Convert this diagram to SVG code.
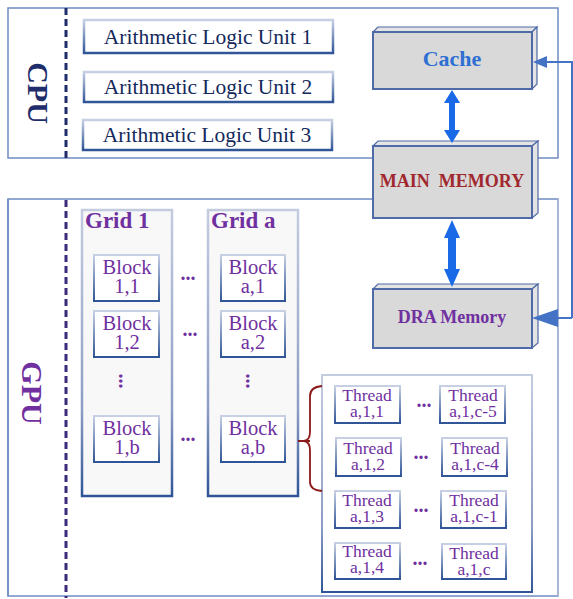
<svg xmlns="http://www.w3.org/2000/svg" width="573" height="599" viewBox="0 0 573 599">
<defs>
<linearGradient id="gs" x1="0" y1="0" x2="0" y2="1">
<stop offset="0" stop-color="#c8d0e4"/>
<stop offset="1" stop-color="#2f5597"/>
</linearGradient>
<linearGradient id="gs2" x1="0" y1="0" x2="0" y2="1">
<stop offset="0" stop-color="#c4cce0"/>
<stop offset="0.7" stop-color="#8c9cc4"/>
<stop offset="1" stop-color="#2f5597"/>
</linearGradient>
</defs>
<style>
.frame{fill:#ffffff;stroke:#6f8cc4;stroke-width:1.5}
.alu{fill:#ffffff;stroke:url(#gs);stroke-width:2.5}
.alut{font-family:"Liberation Serif",serif;font-size:21.5px;fill:#14295c;text-anchor:middle}
.mem{fill:#d9d9d9;stroke:#4f6aa6;stroke-width:2}
.bev{fill:#e4e4e4;stroke:#4f6aa6;stroke-width:1.2}
.memt{font-family:"Liberation Serif",serif;font-weight:bold;text-anchor:middle}
.grid{fill:#f8f8f8;stroke:url(#gs2);stroke-width:2.5}
.gridt{font-family:"Liberation Serif",serif;font-weight:bold;font-size:23px;fill:#7030a0}
.blk{fill:#ffffff;stroke:url(#gs);stroke-width:2}
.blkt{font-family:"Liberation Serif",serif;font-size:20.5px;fill:#7030a0;text-anchor:middle}
.thr{fill:#ffffff;stroke:url(#gs);stroke-width:2}
.thrt{font-family:"Liberation Serif",serif;font-size:17.5px;fill:#7030a0;text-anchor:middle}
.dots{font-family:"Liberation Serif",serif;font-weight:bold;font-size:20px;fill:#7030a0;text-anchor:middle}
.dbl{fill:#1a6ae8}
.conn{fill:none;stroke:#4472c4;stroke-width:2}
</style>

<g id="cpu">
<rect class="frame" x="8" y="8" width="550" height="150"/>
<line x1="66" y1="8" x2="66" y2="158" stroke="#1f2d6b" stroke-width="3" stroke-dasharray="7,4"/>
<text transform="translate(28,93) rotate(90)" font-family="Liberation Serif,serif" font-weight="bold" font-size="30" fill="#1f2d6b" text-anchor="middle">CPU</text>
</g>
<g id="gpu">
<rect class="frame" x="8" y="199" width="550" height="397" stroke="#b0bcd8"/>
<line x1="8" y1="199" x2="8" y2="596" stroke="#6f8cc4" stroke-width="1.5"/>
<line x1="558" y1="199" x2="558" y2="596" stroke="#b0bcd8" stroke-width="1.5"/>
<line x1="66" y1="200" x2="66" y2="598" stroke="#3b2a7a" stroke-width="3" stroke-dasharray="7,4"/>
<text transform="translate(22,393) rotate(90)" font-family="Liberation Serif,serif" font-weight="bold" font-size="30" fill="#7030a0" text-anchor="middle">GPU</text>
</g>

<g id="alu1"><rect class="alu" x="84" y="20" width="249" height="33"/><text class="alut" x="208" y="44">Arithmetic Logic Unit 1</text></g>
<g id="alu2"><rect class="alu" x="84" y="72" width="249" height="30"/><text class="alut" x="208" y="94">Arithmetic Logic Unit 2</text></g>
<g id="alu3"><rect class="alu" x="83" y="120" width="249" height="30"/><text class="alut" x="207" y="142">Arithmetic Logic Unit 3</text></g>

<g id="cache">
<polygon class="bev" points="373,32 378,27 537,27 532,32"/>
<polygon class="bev" points="532,32 537,27 537,84 532,89"/>
<rect class="mem" x="373" y="32" width="159" height="57" stroke="#5b86d0"/>
<text class="memt" x="452" y="66" font-size="22" fill="#2e6fd4">Cache</text>
</g>
<g id="main_memory">
<polygon class="bev" points="373,146 378,141 538,141 532,146"/>
<polygon class="bev" points="532,146 538,141 538,213 532,218"/>
<rect class="mem" x="373" y="146" width="159" height="72"/>
<text class="memt" x="452" y="187" font-size="18" fill="#a0282e" xml:space="preserve">MAIN  MEMORY</text>
</g>
<g id="dra_memory">
<polygon class="bev" points="373,289 378,284 538,284 532,289"/>
<polygon class="bev" points="532,289 538,284 538,343 532,348"/>
<rect class="mem" x="373" y="289" width="159" height="59"/>
<text class="memt" x="452" y="323" font-size="18" fill="#7030a0">DRA Memory</text>
</g>

<g id="grid1">
<rect class="grid" x="82" y="210" width="90" height="286"/>
<text class="gridt" x="85" y="228">Grid 1</text>
</g>
<g id="grida">
<rect class="grid" x="208" y="210" width="90" height="286"/>
<text class="gridt" x="211" y="228">Grid a</text>
</g>

<g id="block11"><rect class="blk" x="94" y="255" width="65" height="46"/><text class="blkt" x="127" y="274">Block</text><text class="blkt" x="127" y="293">1,1</text></g>
<g id="block12"><rect class="blk" x="94" y="311" width="65" height="46"/><text class="blkt" x="127" y="330">Block</text><text class="blkt" x="127" y="349">1,2</text></g>
<g id="block1b"><rect class="blk" x="94" y="416" width="65" height="46"/><text class="blkt" x="127" y="435">Block</text><text class="blkt" x="127" y="454">1,b</text></g>
<g id="blocka1"><rect class="blk" x="221" y="255" width="64" height="46"/><text class="blkt" x="253" y="274">Block</text><text class="blkt" x="253" y="293">a,1</text></g>
<g id="blocka2"><rect class="blk" x="221" y="311" width="64" height="46"/><text class="blkt" x="253" y="330">Block</text><text class="blkt" x="253" y="349">a,2</text></g>
<g id="blockab"><rect class="blk" x="221" y="416" width="64" height="46"/><text class="blkt" x="253" y="435">Block</text><text class="blkt" x="253" y="454">a,b</text></g>

<g id="block_dots">
<text class="dots" x="188" y="280">...</text>
<text class="dots" x="190" y="336">...</text>
<text class="dots" x="188" y="441">...</text>
<text class="dots" transform="translate(119,381) rotate(90)">...</text>
<text class="dots" transform="translate(246,381) rotate(90)">...</text>
</g>

<g id="threads">
<rect fill="#ffffff" stroke="url(#gs2)" stroke-width="2" x="322" y="375" width="210" height="217"/>
</g>
<g id="t_a11"><rect class="thr" x="335" y="386" width="65" height="37"/><text class="thrt" x="367" y="401">Thread</text><text class="thrt" x="367" y="417">a,1,1</text></g>
<g id="t_a1c5"><rect class="thr" x="440" y="386" width="65" height="37"/><text class="thrt" x="473" y="401">Thread</text><text class="thrt" x="473" y="417">a,1,c-5</text></g>
<g id="t_a12"><rect class="thr" x="336" y="438" width="65" height="38"/><text class="thrt" x="368" y="454">Thread</text><text class="thrt" x="368" y="470">a,1,2</text></g>
<g id="t_a1c4"><rect class="thr" x="442" y="438" width="65" height="38"/><text class="thrt" x="475" y="454">Thread</text><text class="thrt" x="475" y="470">a,1,c-4</text></g>
<g id="t_a13"><rect class="thr" x="335" y="491" width="65" height="37"/><text class="thrt" x="367" y="506">Thread</text><text class="thrt" x="367" y="522">a,1,3</text></g>
<g id="t_a1c1"><rect class="thr" x="441" y="491" width="65" height="37"/><text class="thrt" x="474" y="506">Thread</text><text class="thrt" x="474" y="522">a,1,c-1</text></g>
<g id="t_a14"><rect class="thr" x="335" y="543" width="65" height="36"/><text class="thrt" x="367" y="557">Thread</text><text class="thrt" x="367" y="573">a,1,4</text></g>
<g id="t_a1c"><rect class="thr" x="442" y="544" width="64" height="35"/><text class="thrt" x="474" y="559">Thread</text><text class="thrt" x="474" y="575">a,1,c</text></g>
<g id="thread_dots">
<text class="dots" x="424" y="407">...</text>
<text class="dots" x="421" y="459">...</text>
<text class="dots" x="421" y="512">...</text>
<text class="dots" x="420" y="565">...</text>
</g>

<g id="connectors">
<polygon class="dbl" points="452,90 460,103 455,103 455,130 460,130 452,143 444,130 449,130 449,103 444,103"/>
<polygon class="dbl" points="452,220 460,238 456,238 456,269 460,269 452,287 444,269 448,269 448,238 444,238"/>
<path class="conn" d="M572,318 L572,62 L546,62"/>
<polygon fill="#4472c4" points="533,62 547,56 547,68"/>
<path class="conn" d="M572,318 L556,318"/>
<polygon fill="#4472c4" points="532,318 558,309 558,327"/>
<path fill="none" stroke="#8b1a1a" stroke-width="1.8" d="M298,441 L310,441 M322,386 Q310,387 310,396 L310,432 Q310,440 304,441 Q310,442 310,450 L310,482 Q310,490 322,491"/>
</g>
</svg>
